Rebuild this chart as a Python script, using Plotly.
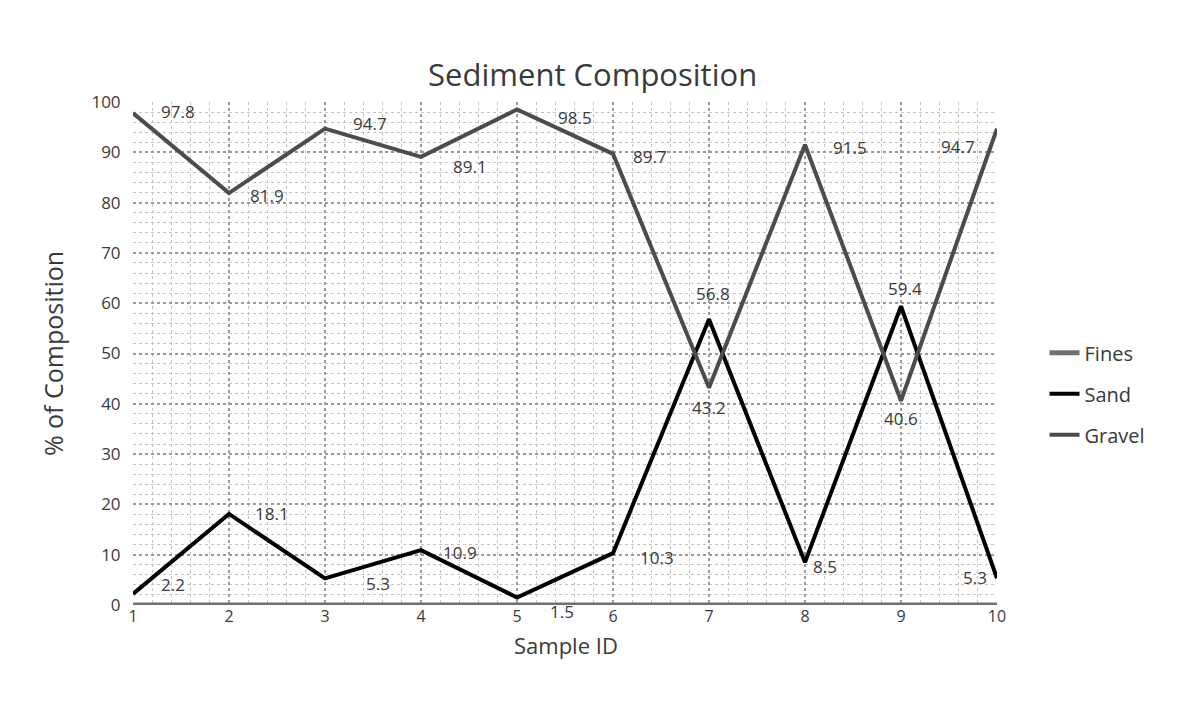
import plotly.graph_objects as go

sample_ids = [1, 2, 3, 4, 5, 6, 7, 8, 9, 10]
fines = [0, 0, 0, 0, 0, 0, 0, 0, 0, 0]
sand = [2.2, 18.1, 5.3, 10.9, 1.5, 10.3, 56.8, 8.5, 59.4, 5.3]
gravel = [97.8, 81.9, 94.7, 89.1, 98.5, 89.7, 43.2, 91.5, 40.6, 94.7]

# label offsets in pixels (style only)
gravel_shift = [(45, 2), (38, -2), (45, 5), (49, -10), (58, -8), (37, -3), (0, -20), (45, -3), (0, -18), (-39, -18)]
sand_shift = [(40, 9), (43, 0), (53, -5), (39, -2), (45, -14), (44, -4), (4, 26), (20, -4), (4, 18), (-22, 1)]

FONT = "Open Sans"
TXT = "#3a3a3a"

fig = go.Figure()
fig.add_trace(go.Scatter(x=sample_ids, y=fines, name="Fines", mode="lines",
                         line=dict(color="#707070", width=5), cliponaxis=False,
                         legendgroup="f"))
fig.add_trace(go.Scatter(x=sample_ids, y=sand, name="Sand", mode="lines",
                         line=dict(color="#000000", width=4), cliponaxis=False,
                         legendgroup="s"))
fig.add_trace(go.Scatter(x=sample_ids, y=gravel, name="Gravel", mode="lines",
                         line=dict(color="#4c4c4c", width=4), cliponaxis=False,
                         legendgroup="g"))

for xs, ys, shifts in ((sample_ids, gravel, gravel_shift), (sample_ids, sand, sand_shift)):
    for xv, yv, (dx, dy) in zip(xs, ys, shifts):
        fig.add_annotation(x=xv, y=yv, text=f"{yv}", showarrow=False,
                           xshift=dx, yshift=dy,
                           font=dict(family=FONT, size=17, color=TXT))

# x-axis title placed as text
fig.add_annotation(x=0.501, y=-0.079, xref="paper", yref="paper", text="Sample ID",
                   showarrow=False, xanchor="center", yanchor="middle",
                   font=dict(family=FONT, size=22, color=TXT))

fig.update_layout(
    width=1185, height=711,
    margin=dict(l=125, r=196, t=94, b=114),
    paper_bgcolor="white", plot_bgcolor="white",
    title=dict(text="Sediment Composition", xref="paper", x=0.532, xanchor="center",
               y=0.906, yanchor="middle",
               font=dict(family=FONT, size=31, color=TXT)),
    font=dict(family=FONT, color=TXT),
    legend=dict(x=1.055, y=0.42, yanchor="middle", xanchor="left",
                font=dict(family=FONT, size=20, color=TXT),
                tracegroupgap=12, bgcolor="rgba(0,0,0,0)"),
    showlegend=True,
)
fig.update_xaxes(
    range=[1, 10], tickmode="linear", tick0=1, dtick=1,
    showgrid=True, gridcolor="#9a9a9a", griddash="dot", gridwidth=1.5,
    minor=dict(dtick=0.2, showgrid=True, gridcolor="#c4c4c4", griddash="dot", gridwidth=1),
    zeroline=False, showline=False, ticks="",
    tickfont=dict(family=FONT, size=16, color=TXT),
)
fig.update_yaxes(
    range=[0, 100], tickmode="linear", tick0=0, dtick=10,
    showgrid=True, gridcolor="#9a9a9a", griddash="dot", gridwidth=1.5,
    minor=dict(dtick=2, showgrid=True, gridcolor="#c4c4c4", griddash="dot", gridwidth=1),
    zeroline=False, showline=False, ticks="outside", ticklen=8, tickcolor="rgba(0,0,0,0)",
    tickfont=dict(family=FONT, size=17, color=TXT),
    title=dict(text="% of Composition", font=dict(family=FONT, size=25, color=TXT), standoff=20),
)

fig.write_html("out.html")
